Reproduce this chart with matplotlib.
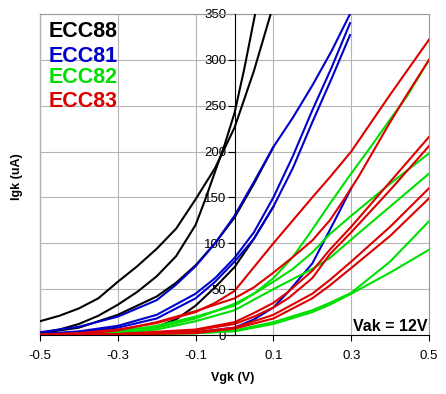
import matplotlib
matplotlib.use("Agg")
import matplotlib.pyplot as plt

plt.rcParams['font.family'] = ['Liberation Sans', 'DejaVu Sans']

# grid current Igk (uA) vs grid voltage Vgk (V), Vak = 12V
# ECC88 (black)
ecc88_x = [
    [-0.5, -0.45, -0.4, -0.35, -0.3, -0.25, -0.2, -0.15, -0.1, -0.05, 0.0, 0.05, 0.093],
    [-0.5, -0.45, -0.4, -0.35, -0.3, -0.25, -0.2, -0.15, -0.1, -0.075, -0.05, -0.025, 0.0, 0.025, 0.053],
    [-0.5, -0.4, -0.3, -0.2, -0.15, -0.1, -0.05, 0.0, 0.05, 0.1],
    [-0.5, -0.4, -0.3, -0.2, -0.15, -0.1, -0.05, 0.0, 0.05, 0.1],
]
ecc88_y = [
    [15, 21, 29, 40, 58, 75, 94, 116, 148, 182, 226, 288, 350],
    [2, 6, 12, 21, 33, 47, 64, 86, 120, 148, 178, 208, 242, 290, 350],
    [2, 8, 22, 42, 57, 76, 100, 128, 165, 205],
    [1, 2, 4, 9, 17, 32, 52, 74, 105, 140],
]

# ECC81 (blue)
ecc81_x = [
    [-0.5, -0.4, -0.3, -0.2, -0.15, -0.1, -0.05, 0.0, 0.05, 0.1, 0.15, 0.2, 0.25, 0.297],
    [-0.5, -0.4, -0.3, -0.2, -0.1, -0.05, 0.0, 0.05, 0.1, 0.15, 0.2, 0.25, 0.297],
    [-0.5, -0.4, -0.3, -0.2, -0.1, -0.05, 0.0, 0.05, 0.1, 0.15, 0.2, 0.25, 0.297],
    [-0.5, -0.3, -0.1, 0.0, 0.05, 0.1, 0.138, 0.2, 0.258, 0.3],
]
ecc81_y = [
    [3, 9, 20, 38, 55, 75, 100, 130, 167, 205, 237, 272, 310, 350],
    [1, 4, 10, 22, 45, 62, 84, 112, 150, 195, 245, 292, 340],
    [1, 3, 8, 18, 40, 58, 80, 105, 140, 182, 232, 280, 327],
    [0, 1, 3, 8, 17, 30, 47, 78, 125, 160],
]

# ECC82 (green)
ecc82_x = [
    [-0.5, -0.4, -0.3, -0.2, -0.1, 0.0, 0.05, 0.1, 0.15, 0.2, 0.245, 0.293, 0.35, 0.4, 0.443, 0.5],
    [-0.5, -0.3, -0.2, -0.1, 0.0, 0.05, 0.1, 0.15, 0.2, 0.245, 0.3, 0.4, 0.5],
    [-0.5, -0.3, -0.2, -0.1, 0.0, 0.1, 0.2, 0.245, 0.297, 0.4, 0.5],
    [-0.5, -0.3, -0.1, 0.0, 0.1, 0.2, 0.245, 0.3, 0.4, 0.5],
    [-0.5, -0.3, -0.1, 0.0, 0.1, 0.2, 0.245, 0.3, 0.4, 0.5],
]
ecc82_y = [
    [0, 1, 4, 10, 20, 32, 45, 62, 85, 115, 143, 172, 205, 235, 260, 300],
    [0, 3, 8, 18, 34, 45, 58, 72, 90, 110, 130, 165, 198],
    [0, 2, 6, 15, 27, 50, 72, 84, 103, 140, 176],
    [0, 0.5, 2, 5, 14, 27, 35, 46, 80, 124],
    [0, 0.5, 2, 4, 12, 25, 33, 45, 68, 93],
]

# ECC83 (red)
ecc83_x = [
    [-0.5, -0.4, -0.3, -0.2, -0.1, -0.05, 0.0, 0.05, 0.1, 0.15, 0.2, 0.245, 0.3, 0.4, 0.5],
    [-0.5, -0.4, -0.3, -0.2, -0.1, 0.0, 0.05, 0.1, 0.15, 0.2, 0.245, 0.28, 0.318, 0.4, 0.443, 0.5],
    [-0.5, -0.3, -0.1, 0.0, 0.05, 0.1, 0.138, 0.2, 0.245, 0.3, 0.4, 0.5],
    [-0.5, -0.3, -0.1, 0.0, 0.05, 0.1, 0.138, 0.2, 0.245, 0.3, 0.4, 0.5],
    [-0.5, -0.3, -0.1, 0.0, 0.1, 0.2, 0.245, 0.3, 0.4, 0.5],
    [-0.5, -0.3, -0.1, 0.0, 0.1, 0.2, 0.245, 0.3, 0.4, 0.5],
]
ecc83_y = [
    [0.5, 2, 6, 13, 25, 35, 48, 74, 100, 125, 150, 172, 200, 262, 322],
    [0, 1, 5, 14, 26, 40, 52, 68, 85, 103, 125, 147, 172, 232, 262, 300],
    [0, 1, 6, 14, 24, 35, 47, 70, 93, 118, 167, 216],
    [0, 1, 5, 12, 20, 30, 40, 62, 88, 112, 158, 206],
    [0, 1, 3, 8, 22, 45, 60, 80, 118, 160],
    [0, 0.5, 2, 7, 18, 40, 54, 73, 108, 149],
]

tubes = ["ECC88", "ECC81", "ECC82", "ECC83"]
colors = ["#000000", "#0000CC", "#00E000", "#DD0000"]

x_ticks = [-0.5, -0.3, -0.1, 0.1, 0.3, 0.5]
y_ticks = [0, 50, 100, 150, 200, 250, 300, 350]

fig = plt.figure(figsize=(4.46, 3.94), dpi=100)
ax = fig.add_axes([40 / 446, 1 - 335 / 394, 389 / 446, 321 / 394])

all_x = [ecc88_x, ecc81_x, ecc82_x, ecc83_x]
all_y = [ecc88_y, ecc81_y, ecc82_y, ecc83_y]
for xs, ys, c in zip(all_x, all_y, colors):
    for x, y in zip(xs, ys):
        ax.plot(x, y, color=c, lw=1.5, solid_joinstyle='round', zorder=3)

ax.set_xlim(-0.5, 0.5)
ax.set_ylim(0, 350)
ax.set_xticks(x_ticks)
ax.set_xticklabels([f"{v:.1f}" for v in x_ticks])
ax.set_yticks(y_ticks)
ax.set_yticklabels([str(v) for v in y_ticks])
ax.grid(True, color='#B4B4B4', lw=0.8, zorder=0)

# y axis crosses at Vgk = 0, frame in grey
ax.spines['left'].set_position(('data', 0))
ax.spines['left'].set_color('black')
ax.spines['left'].set_zorder(4)
ax.spines['bottom'].set_color('black')
for s in ['top', 'right']:
    ax.spines[s].set_color('#999999')
ax.axvline(-0.5, color='#999999', lw=1.0, clip_on=False, zorder=1)

ax.tick_params(axis='y', direction='out', length=5, pad=1, labelsize=9.5, colors='black')
ax.tick_params(axis='x', direction='out', length=4, pad=7, labelsize=9.5)

# legend as coloured text
legend_y = [0.929, 0.851, 0.784, 0.711]
for name, c, yy in zip(tubes, colors, legend_y):
    ax.text(0.021, yy, name, color=c, fontsize=15.5, fontweight='bold',
            transform=ax.transAxes, va='baseline', ha='left', zorder=5)

ax.text(0.995, 0.012, "Vak = 12V", fontsize=11.5, fontweight='bold',
        transform=ax.transAxes, va='baseline', ha='right', zorder=5)

fig.text(17 / 446, 1 - 177 / 394, "Igk (uA)", rotation=90, fontsize=9,
         fontweight='bold', ha='center', va='center')
fig.text(233 / 446, 1 - 378 / 394, "Vgk (V)", fontsize=9,
         fontweight='bold', ha='center', va='center')

fig.savefig("out.png", dpi=100)
